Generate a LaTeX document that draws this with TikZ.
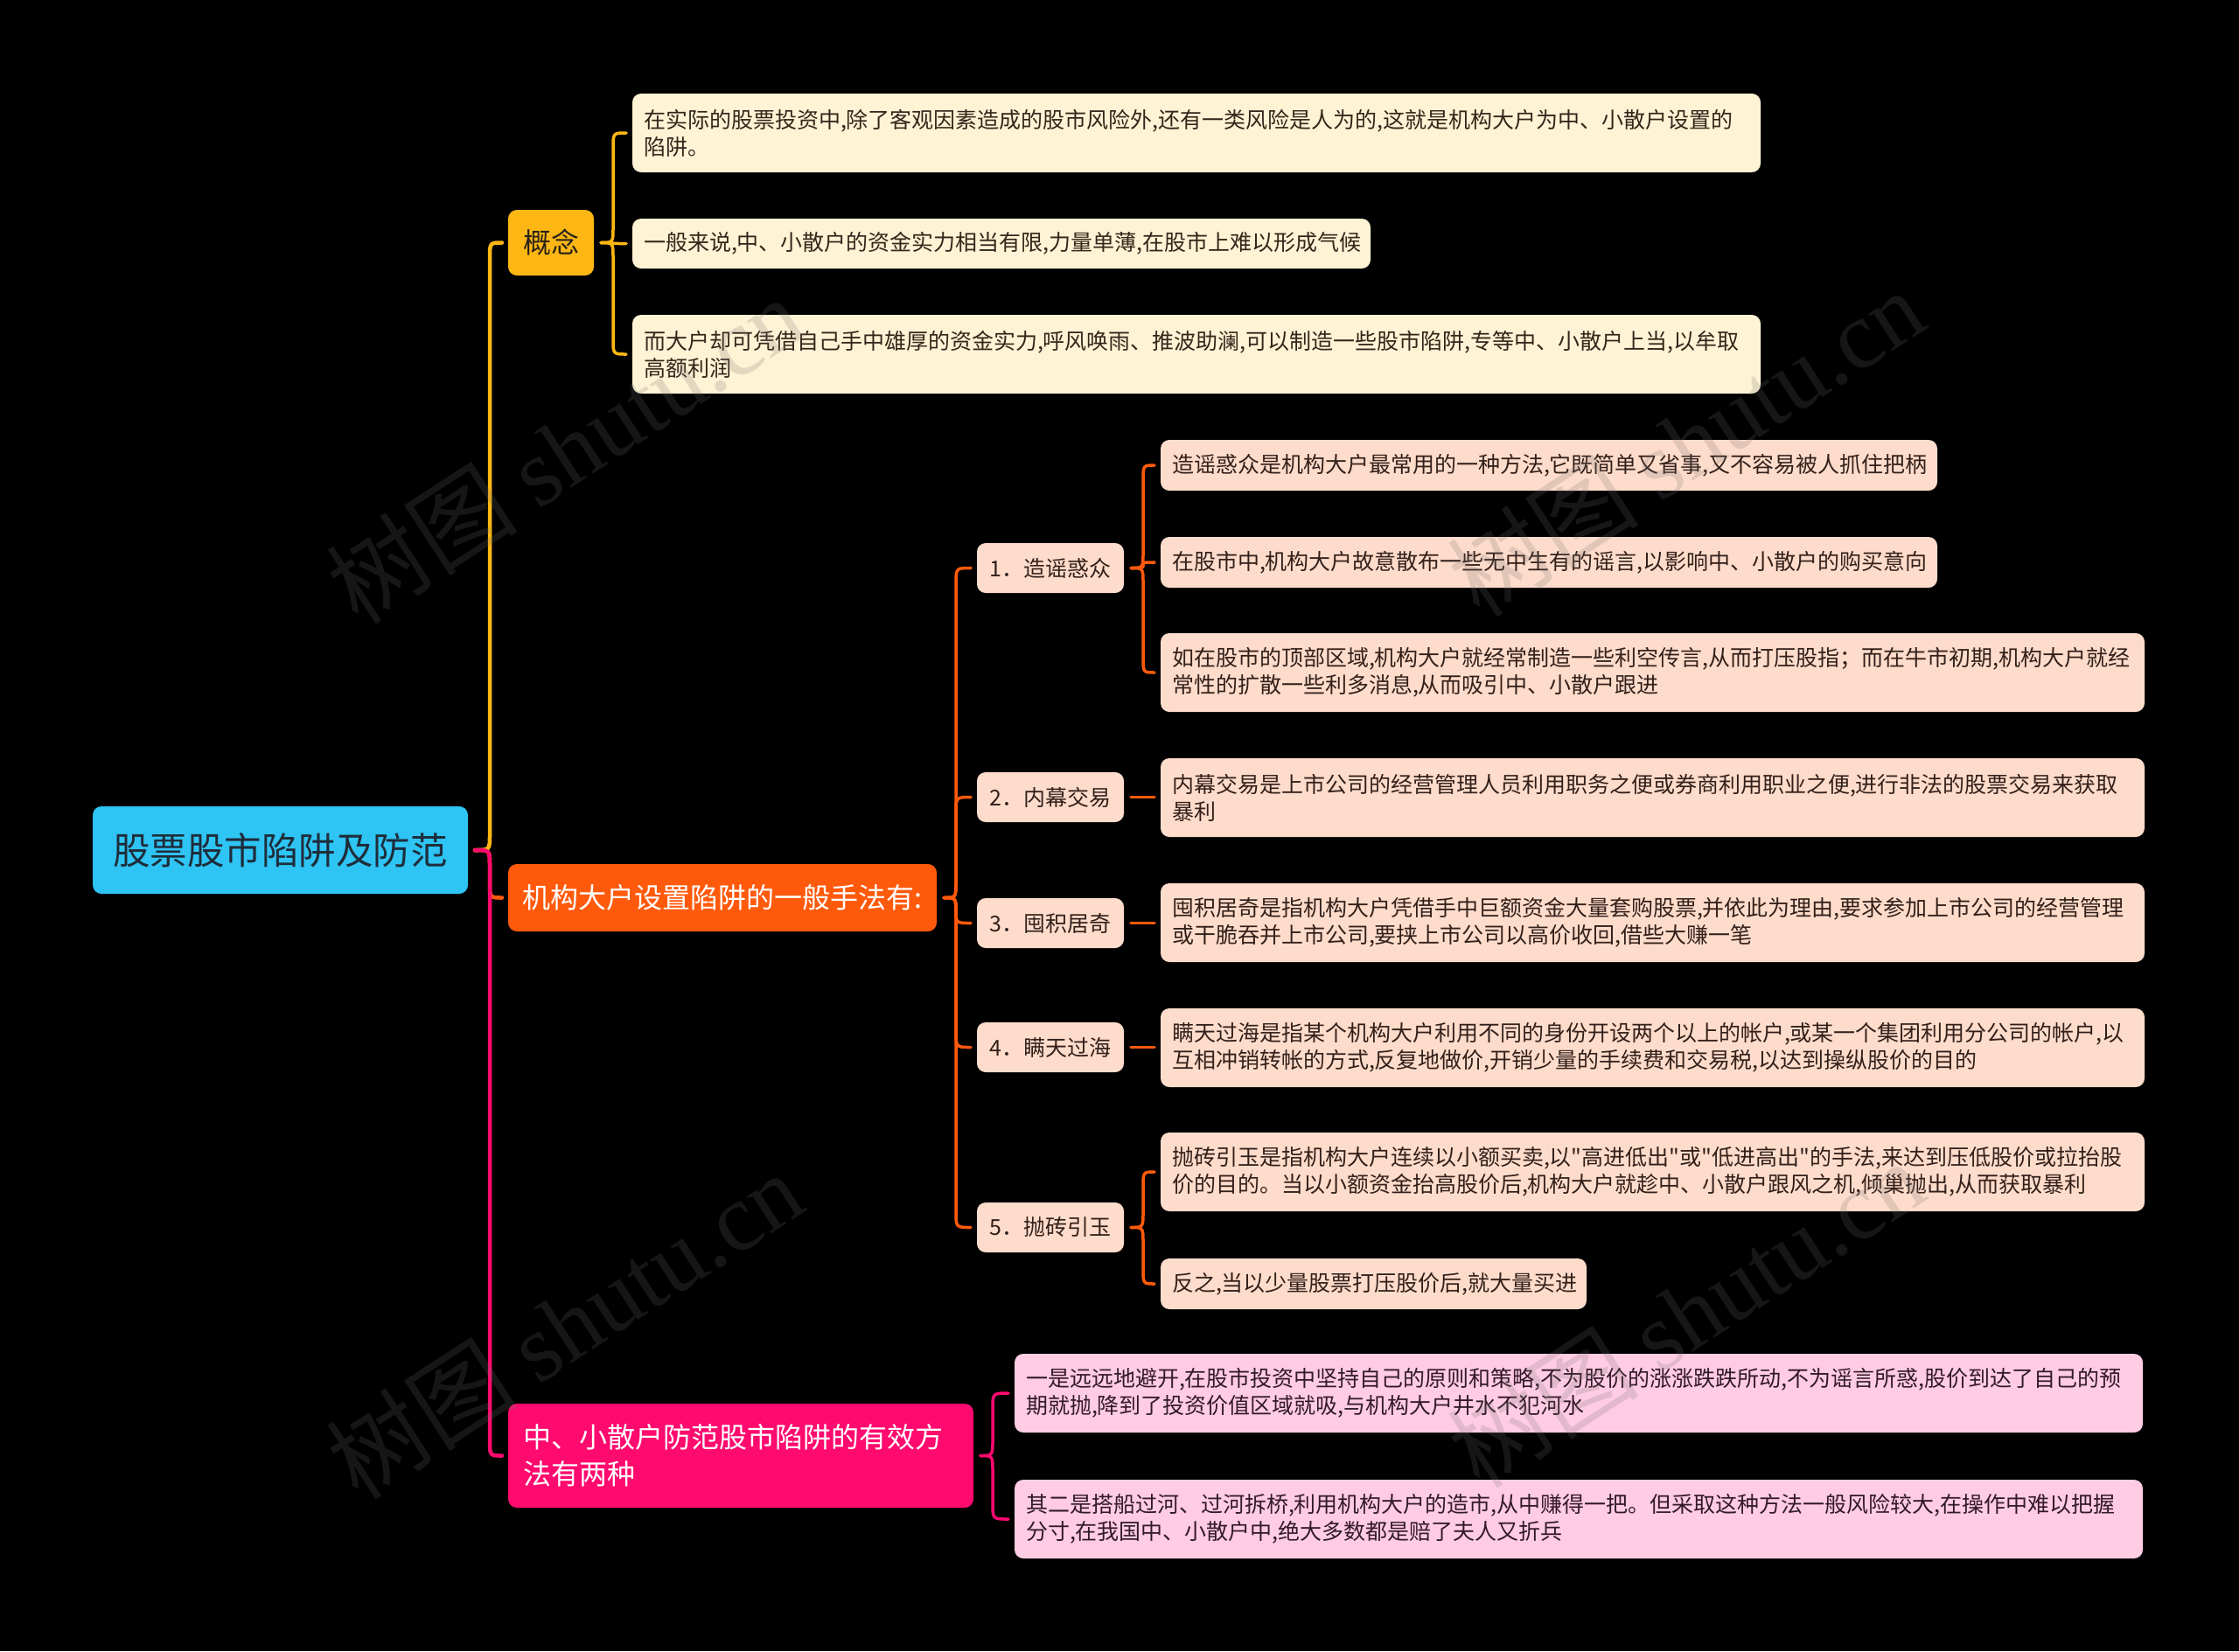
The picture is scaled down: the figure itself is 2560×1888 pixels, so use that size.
\documentclass[tikz,border=0pt]{standalone}
\usepackage{fontspec}
\usetikzlibrary{calc}
\newfontfamily\cjk{Noto Sans CJK SC}
\newfontfamily\wmfont{Liberation Serif}
\definecolor{rootc}{HTML}{2EC4F4}
\definecolor{roott}{HTML}{1E2D3A}
\definecolor{ylwc}{HTML}{FDB714}
\definecolor{orgc}{HTML}{FF5A0C}
\definecolor{pnkc}{HTML}{FF0A6E}
\definecolor{creamc}{HTML}{FFF3D5}
\definecolor{creamt}{HTML}{33261A}
\definecolor{peachc}{HTML}{FEDCCB}
\definecolor{peacht}{HTML}{33201A}
\definecolor{lpinkc}{HTML}{FFCCE3}
\definecolor{lpinkt}{HTML}{331A28}
\definecolor{darkt}{HTML}{2A2218}
\definecolor{wmc}{HTML}{707070}

% brace-like connector: parent, child, style; optional horizontal run
\newcommand{\bconn}[4][14pt]{%
  \draw[#4] let \p1=([xshift=8pt]#2.east), \p2=([xshift=-7pt]#3.west),
     \n1={\x1+#1}, \n2={sign(\y2-\y1)*min(18,abs(\y2-\y1)/2)} in
     (\p1) .. controls (\n1,\y1) .. (\n1,{\y1+\n2}) -- (\n1,{\y2-\n2})
     .. controls (\n1,\y2) .. (\p2);}

\begin{document}
\begin{tikzpicture}[x=1pt,y=-1pt,
  box/.style={anchor=north west, rounded corners=10pt, inner ysep=0pt, outer sep=0pt},
  leaf/.style={box, inner xsep=13pt, align=left, font=\cjk\fontsize{25pt}{31pt}\selectfont},
  leafC/.style={leaf, fill=creamc, text=creamt},
  leafP/.style={leaf, fill=peachc, text=peacht},
  leafK/.style={leaf, fill=lpinkc, text=lpinkt},
  midnode/.style={box, fill=peachc, text=peacht, minimum width=168pt, minimum height=57pt, inner xsep=0pt, font=\cjk\fontsize{25pt}{31pt}\selectfont},
  lvone/.style={box, font=\cjk\fontsize{32pt}{42pt}\selectfont},
  rootst/.style={box, fill=rootc, text=roott, minimum width=429pt, minimum height=100pt, inner xsep=0pt, font=\cjk\fontsize{42.5pt}{50pt}\selectfont},
  conn/.style={line width=3.5pt, line cap=round},
  ylw/.style={conn, draw=ylwc},
  org/.style={conn, draw=orgc},
  pnk/.style={conn, draw=pnkc},
  wm/.style={text=wmc, opacity=0.2, font=\cjk\fontsize{110pt}{114pt}\selectfont, rotate=33, inner sep=0pt}
]
\useasboundingbox (0,0) rectangle (2560,1888);
\fill[black] (0,0) rectangle (2560,1888);

% root and level one
\node[rootst] (root) at (106,922) {股票股市陷阱及防范};
\node[lvone, fill=ylwc, text=darkt, minimum width=98pt, minimum height=75pt, inner xsep=0pt] (gainian) at (581,240) {概念};
\node[lvone, fill=orgc, text=white, minimum width=490pt, minimum height=77pt, inner xsep=0pt] (jigou) at (581,988) {机构大户设置陷阱的一般手法有:};
\node[lvone, fill=pnkc, text=white, minimum height=119pt, text width=498pt, inner xsep=17pt, align=left] (zhongxiao) at (581,1605) {中、小散户防范股市陷阱的有效方\\法有两种};

% concept leaves
\node[leafC, text width=1264pt, minimum height=90pt] (c1) at (723,107) {在实际的股票投资中,除了客观因素造成的股市风险外,还有一类风险是人为的,这就是机构大户为中、小散户设置的\\陷阱。};
\node[leafC, text width=818pt, minimum height=57pt] (c2) at (723,250) {一般来说,中、小散户的资金实力相当有限,力量单薄,在股市上难以形成气候};
\node[leafC, text width=1264pt, minimum height=90pt] (c3) at (723,360) {而大户却可凭借自己手中雄厚的资金实力,呼风唤雨、推波助澜,可以制造一些股市陷阱,专等中、小散户上当,以牟取\\高额利润};

% method nodes
\node[midnode] (m1) at (1117,621) {1．造谣惑众};
\node[midnode] (m2) at (1117,883) {2．内幕交易};
\node[midnode] (m3) at (1117,1027) {3．囤积居奇};
\node[midnode] (m4) at (1117,1169) {4．瞒天过海};
\node[midnode] (m5) at (1117,1375) {5．抛砖引玉};

% method leaves
\node[leafP, text width=862pt, minimum height=58pt] (m1a) at (1327,503) {造谣惑众是机构大户最常用的一种方法,它既简单又省事,又不容易被人抓住把柄};
\node[leafP, text width=862pt, minimum height=58pt] (m1b) at (1327,614) {在股市中,机构大户故意散布一些无中生有的谣言,以影响中、小散户的购买意向};
\node[leafP, text width=1099pt, minimum height=90pt] (m1c) at (1327,724) {如在股市的顶部区域,机构大户就经常制造一些利空传言,从而打压股指；而在牛市初期,机构大户就经\\常性的扩散一些利多消息,从而吸引中、小散户跟进};
\node[leafP, text width=1099pt, minimum height=90pt] (m2a) at (1327,867) {内幕交易是上市公司的经营管理人员利用职务之便或券商利用职业之便,进行非法的股票交易来获取\\暴利};
\node[leafP, text width=1099pt, minimum height=90pt] (m3a) at (1327,1010) {囤积居奇是指机构大户凭借手中巨额资金大量套购股票,并依此为理由,要求参加上市公司的经营管理\\或干脆吞并上市公司,要挟上市公司以高价收回,借些大赚一笔};
\node[leafP, text width=1099pt, minimum height=90pt] (m4a) at (1327,1153) {瞒天过海是指某个机构大户利用不同的身份开设两个以上的帐户,或某一个集团利用分公司的帐户,以\\互相冲销转帐的方式,反复地做价,开销少量的手续费和交易税,以达到操纵股价的目的};
\node[leafP, text width=1099pt, minimum height=90pt] (m5a) at (1327,1295) {抛砖引玉是指机构大户连续以小额买卖,以"高进低出"或"低进高出"的手法,来达到压低股价或拉抬股\\价的目的。当以小额资金抬高股价后,机构大户就趁中、小散户跟风之机,倾巢抛出,从而获取暴利};
\node[leafP, text width=461pt, minimum height=58pt] (m5b) at (1327,1439) {反之,当以少量股票打压股价后,就大量买进};

% defence leaves
\node[leafK, text width=1264pt, minimum height=90pt] (p1) at (1160,1548) {一是远远地避开,在股市投资中坚持自己的原则和策略,不为股价的涨涨跌跌所动,不为谣言所惑,股价到达了自己的预\\期就抛,降到了投资价值区域就吸,与机构大户井水不犯河水};
\node[leafK, text width=1264pt, minimum height=90pt] (p2) at (1160,1692) {其二是搭船过河、过河拆桥,利用机构大户的造市,从中赚得一把。但采取这种方法一般风险较大,在操作中难以把握\\分寸,在我国中、小散户中,绝大多数都是赔了夫人又折兵};

% connectors
\bconn[17pt]{root}{jigou}{org, line width=4.5pt}
\bconn[17pt]{root}{gainian}{ylw, line width=4.5pt}
\bconn[17pt]{root}{zhongxiao}{pnk, line width=4.5pt}
\bconn{gainian}{c1}{ylw}
\bconn{gainian}{c2}{ylw}
\bconn{gainian}{c3}{ylw}
\bconn{jigou}{m1}{org}
\bconn{jigou}{m2}{org}
\bconn{jigou}{m3}{org}
\bconn{jigou}{m4}{org}
\bconn{jigou}{m5}{org}
\bconn{m1}{m1a}{org}
\bconn{m1}{m1b}{org}
\bconn{m1}{m1c}{org}
\draw[org] ([xshift=8pt]m2.east) -- ($(m2.east -| m2a.west)+(-7,0)$);
\draw[org] ([xshift=8pt]m3.east) -- ($(m3.east -| m3a.west)+(-7,0)$);
\draw[org] ([xshift=8pt]m4.east) -- ($(m4.east -| m4a.west)+(-7,0)$);
\bconn{m5}{m5a}{org}
\bconn{m5}{m5b}{org}
\bconn{zhongxiao}{p1}{pnk}
\bconn{zhongxiao}{p2}{pnk}

% watermarks
\node[wm] (wm1) at (645,514) {树图 {\wmfont shutu.cn}};
\node[wm] (wm2) at (1927,506) {树图 {\wmfont shutu.cn}};
\node[wm] (wm3) at (645,1515) {树图 {\wmfont shutu.cn}};
\node[wm] (wm4) at (1927,1502) {树图 {\wmfont shutu.cn}};
\end{tikzpicture}
\end{document}
